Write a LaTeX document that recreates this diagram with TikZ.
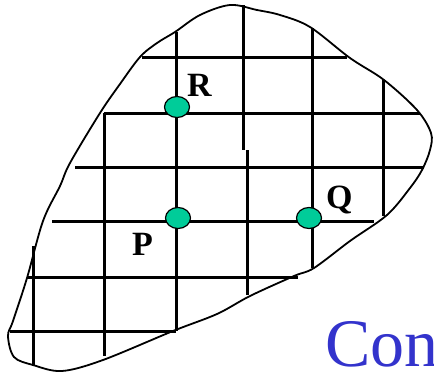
\documentclass[tikz,border=0pt]{standalone}
\usepackage{fontspec}
\setmainfont{Liberation Serif}
\usetikzlibrary{shapes.geometric}
\definecolor{ptgreen}{HTML}{00CC99}
\definecolor{conblue}{HTML}{3333CC}
\begin{document}
\begin{tikzpicture}[x=1pt,y=-1pt,
  grid/.style={line width=3pt},
  outline/.style={line width=1.8pt},
  pt/.style={ellipse,draw=black,line width=1.2pt,fill=ptgreen,minimum width=25pt,minimum height=21pt,inner sep=0pt},
  lbl/.style={font=\fontsize{34}{34}\selectfont\bfseries,inner sep=0pt,anchor=base west}]
\useasboundingbox (0,0) rectangle (434,375);
\clip (0,0) rectangle (434,375);
% outline
\draw[outline] plot[smooth cycle,tension=0.55] coordinates {
 (230,5) (257,10) (280,15) (310,27) (350,58) (384,80) (417,110) (431,133)
 (430,150) (422,170) (410,188) (387,215) (350,241) (314,268) (294,276)
 (250,296) (217,314) (173,331) (103,360) (62,371) (33,365) (14,357)
 (8,336) (13,321) (27,278) (43,221) (60,186) (70,163) (100,113) (120,84)
 (140,57) (157,43) (175,32) (200,15)};
% vertical grid lines
\draw[grid] (33,246) -- (33,366);
\draw[grid] (104,113) -- (104,356);
\draw[grid] (176,32) -- (176,331);
\draw[grid] (243,5) -- (243,150);
\draw[grid] (247,150) -- (247,295);
\draw[grid] (312,28) -- (312,268);
\draw[grid] (383,80) -- (383,216);
% horizontal grid lines
\draw[grid] (142,57) -- (347,57);
\draw[grid] (104,113) -- (420,113);
\draw[grid] (75,167) -- (424,167);
\draw[grid] (52,221) -- (374,221);
\draw[grid] (27,277) -- (298,277);
\draw[grid] (10,331) -- (176,331);
% points
\node[pt] (R) at (177,107) {};
\node[pt] (P) at (178,218) {};
\node[pt] (Q) at (309,218) {};
\node[lbl] (Rl) at (187,96) {R};
\node[lbl] (Pl) at (132,255) {P};
\node[lbl] (Ql) at (326,208) {Q};
\node[font=\fontsize{68}{68}\selectfont,text=conblue,inner sep=0pt,anchor=base west] (con) at (325,366) {Con};
\end{tikzpicture}
\end{document}
